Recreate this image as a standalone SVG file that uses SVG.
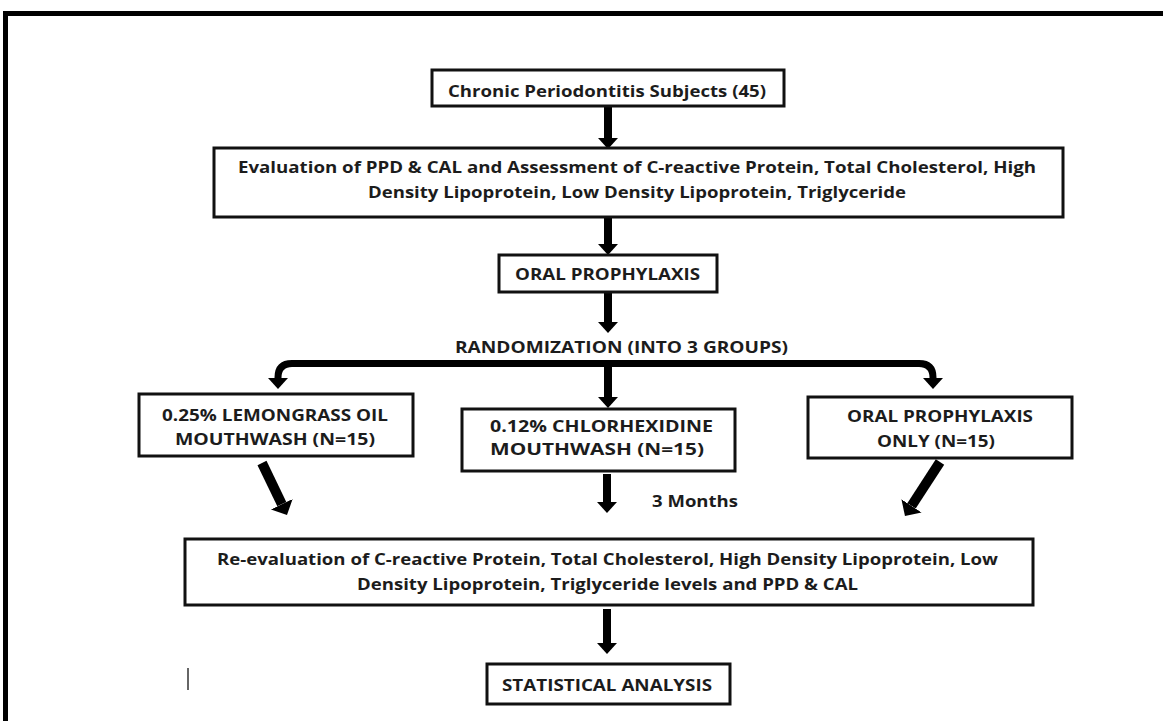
<svg xmlns="http://www.w3.org/2000/svg" width="1163" height="721" viewBox="0 0 1163 721">
<defs>
<style>
.box{fill:#fff;stroke:#111;stroke-width:3}
.t{font-family:"Open Sans","Lato","Liberation Sans",sans-serif;font-weight:700;font-size:15.5px;fill:#1c1c1c}
.c{stroke:#000;fill:none;stroke-linecap:butt}
</style>
<marker id="ah" viewBox="0 0 11 20" refX="0" refY="10" markerWidth="11" markerHeight="20" markerUnits="userSpaceOnUse" orient="auto">
<path d="M0,0 L11,10 L0,20 Z" fill="#000"/>
</marker>
<marker id="ahd" viewBox="0 0 12 24" refX="0" refY="12" markerWidth="12" markerHeight="24" markerUnits="userSpaceOnUse" orient="auto">
<path d="M0,0 L12,12 L0,24 Z" fill="#000"/>
</marker>
</defs>
<rect x="0" y="0" width="1163" height="721" fill="#fff"/>
<rect x="5.5" y="13.5" width="1200" height="760" fill="none" stroke="#000" stroke-width="5"/>

<g id="connectors">
<path class="c" d="M608,107 V138" stroke-width="8" marker-end="url(#ah)"/>
<path class="c" d="M608,218 V244" stroke-width="8" marker-end="url(#ah)"/>
<path class="c" d="M608,293 V322" stroke-width="8" marker-end="url(#ah)"/>
<path class="c" d="M608,363.5 H292 Q278,363.5 278,377.5 V378" stroke-width="7" marker-end="url(#ah)"/>
<path class="c" d="M608,363.5 H919 Q933,363.5 933,377.5 V378" stroke-width="7" marker-end="url(#ah)"/>
<path class="c" d="M608,363.5 V397" stroke-width="8" marker-end="url(#ah)"/>
<path class="c" d="M262,463 L281.8,504.2" stroke-width="10" marker-end="url(#ahd)"/>
<path class="c" d="M940,462 L911.5,505.9" stroke-width="10" marker-end="url(#ahd)"/>
<path class="c" d="M607,474 V502" stroke-width="8" marker-end="url(#ah)"/>
<path class="c" d="M607,609 V643" stroke-width="8" marker-end="url(#ah)"/>
</g>

<g id="n-subjects">
<rect class="box" x="432" y="70" width="352" height="36"/>
<text class="t" x="448" y="97" textLength="318" lengthAdjust="spacingAndGlyphs">Chronic Periodontitis Subjects (45)</text>
</g>

<g id="n-evaluation">
<rect class="box" x="214" y="148" width="849" height="69"/>
<text class="t" x="238" y="173" textLength="798" lengthAdjust="spacingAndGlyphs">Evaluation of PPD &amp; CAL and Assessment of C-reactive Protein, Total Cholesterol, High</text>
<text class="t" x="368" y="198" textLength="538" lengthAdjust="spacingAndGlyphs">Density Lipoprotein, Low Density Lipoprotein, Triglyceride</text>
</g>

<g id="n-prophylaxis">
<rect class="box" x="499" y="255" width="218" height="37"/>
<text class="t" x="515" y="280" textLength="185" lengthAdjust="spacingAndGlyphs">ORAL PROPHYLAXIS</text>
</g>

<g id="n-randomization">
<text class="t" x="455" y="353" textLength="333" lengthAdjust="spacingAndGlyphs">RANDOMIZATION (INTO 3 GROUPS)</text>
</g>

<g id="n-lemongrass">
<rect class="box" x="139" y="394" width="274" height="62"/>
<text class="t" x="162" y="421" textLength="226" lengthAdjust="spacingAndGlyphs">0.25% LEMONGRASS OIL</text>
<text class="t" x="175" y="445" textLength="200" lengthAdjust="spacingAndGlyphs">MOUTHWASH (N=15)</text>
</g>

<g id="n-chlorhexidine">
<rect class="box" x="462" y="409" width="273" height="62"/>
<text class="t" x="490" y="432" textLength="223" lengthAdjust="spacingAndGlyphs">0.12% CHLORHEXIDINE</text>
<text class="t" x="490" y="455" textLength="214" lengthAdjust="spacingAndGlyphs">MOUTHWASH (N=15)</text>
</g>

<g id="n-oponly">
<rect class="box" x="808" y="397" width="264" height="61"/>
<text class="t" x="847" y="422" textLength="186" lengthAdjust="spacingAndGlyphs">ORAL PROPHYLAXIS</text>
<text class="t" x="877" y="447" textLength="118" lengthAdjust="spacingAndGlyphs">ONLY (N=15)</text>
</g>

<g id="n-months">
<text class="t" x="652" y="507" textLength="86" lengthAdjust="spacingAndGlyphs">3 Months</text>
</g>

<g id="n-reevaluation">
<rect class="box" x="185" y="539" width="848" height="66"/>
<text class="t" x="217" y="565" textLength="781" lengthAdjust="spacingAndGlyphs">Re-evaluation of C-reactive Protein, Total Cholesterol, High Density Lipoprotein, Low</text>
<text class="t" x="357" y="590" textLength="501" lengthAdjust="spacingAndGlyphs">Density Lipoprotein, Triglyceride levels and PPD &amp; CAL</text>
</g>

<g id="n-statistical">
<rect class="box" x="487" y="664" width="243" height="40"/>
<text class="t" x="502" y="691" textLength="210" lengthAdjust="spacingAndGlyphs">STATISTICAL ANALYSIS</text>
</g>

<line x1="188" y1="668" x2="188" y2="690" stroke="#333" stroke-width="1.5"/>
</svg>
